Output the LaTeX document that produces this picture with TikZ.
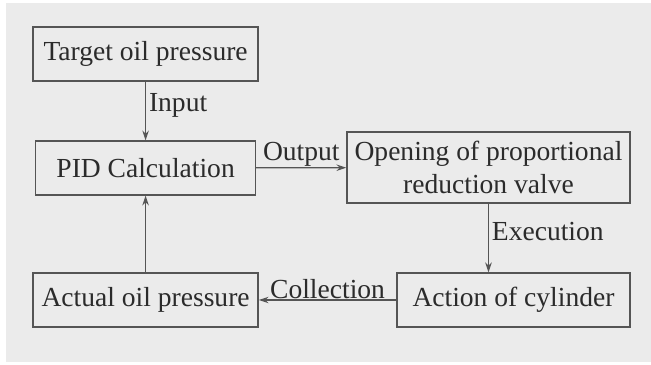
\documentclass[tikz,border=0pt]{standalone}
\usepackage{fontspec}
\setmainfont{Liberation Serif}
\usepackage{xcolor}
\usetikzlibrary{calc, arrows, arrows.meta, shapes, positioning}
\definecolor{bggray}{HTML}{EBEBEB}
\definecolor{linegray}{HTML}{555555}
\definecolor{textgray}{HTML}{2B2B2B}
\begin{document}
\begin{tikzpicture}[b/.style={draw=linegray, line width=0.9pt, rectangle, inner sep=0pt, align=center, text=textgray, font=\fontsize{19.6}{23.5}\selectfont},
      l/.style={text=textgray, font=\fontsize{19.6}{23.5}\selectfont, inner sep=2pt},
      a/.style={draw=linegray, line width=0.9pt, -{Stealth[length=7pt,width=4.6pt]}}]
      \useasboundingbox (0,0) rectangle (16.275,9.125);
      \fill[bggray] (0.15,0.075) rectangle (16.275,9.05);

      \draw node[b, minimum width=5.625cm, minimum height=1.35cm] (target) at (3.64,7.775) {Target oil pressure};
      \draw node[b, minimum width=5.5cm, minimum height=1.35cm] (pid) at (3.64,4.925) {PID Calculation};
      \draw node[b, minimum width=7.075cm, minimum height=1.775cm] (valve) at (12.2125,4.9375) {Opening of proportional\\reduction valve};
      \draw node[b, minimum width=5.825cm, minimum height=1.35cm] (cyl) at (12.8375,1.625) {Action of cylinder};
      \draw node[b, minimum width=5.625cm, minimum height=1.35cm] (actual) at (3.64,1.625) {Actual oil pressure};

      \draw[a] (target) -- node[l, right, yshift=0.15cm] (input) {Input} (pid);
      \draw[a] (pid) -- node[l, above, yshift=-0.05cm] (output) {Output} (valve);
      \draw[a] (valve.south) -- node[l, right, yshift=0.15cm] (exec) {Execution} (valve.south |- cyl.north);
      \draw[a] (cyl) -- node[l, above, yshift=-0.05cm] (collect) {Collection} (actual);
      \draw[a] (actual) -- (pid);
    \end{tikzpicture}
\end{document}
